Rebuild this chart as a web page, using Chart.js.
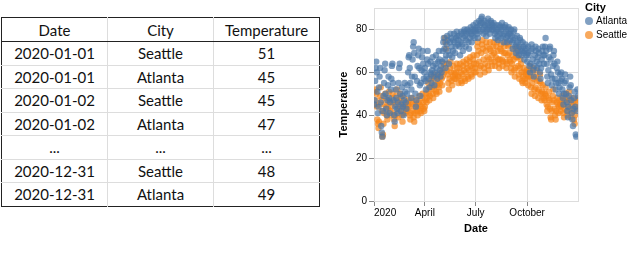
<!DOCTYPE html>
<html>
<head>
<meta charset="utf-8">
<script src="https://cdn.jsdelivr.net/npm/chart.js@4"></script>
<style>
  body { margin: 0; background: #fff; width: 640px; height: 265px; position: relative; overflow: hidden; }
  table { position: absolute; left: 1px; top: 17px; border-collapse: collapse; border: 1px solid #222;
          font-family: Lato, "Open Sans", sans-serif; font-size: 15px; color: #111; }
  td, th { width: 105px; height: 22.5px; padding: 0; text-align: center; font-weight: normal;
           border-left: 1px solid #ddd; border-bottom: 1px solid #ddd; }
  th { height: 23px; border-bottom: 1px solid #222; }
  tr:last-child td { border-bottom: none; }
  td:first-child, th:first-child { border-left: none; }
  #chart { position: absolute; left: 320px; top: 0; }
  #legend { position: absolute; left: 585px; top: 0; font-family: "Liberation Sans", sans-serif; color: #000; }
  #legend .title { font-size: 11px; font-weight: bold; line-height: 14px; }
  #legend .item { position: relative; height: 14px; font-size: 10px; line-height: 14px; padding-left: 11px; }
  #legend .dot { position: absolute; left: 0; top: 3px; width: 8px; height: 8px; border-radius: 50%; }
</style>
</head>
<body>
<table id="tbl"></table>
<canvas id="chart" width="320" height="265"></canvas>
<div id="legend"></div>
<script>
// table shown on the left
const tableHead = ['Date', 'City', 'Temperature'];
const tableRows = [
  ['2020-01-01', 'Seattle', '51'],
  ['2020-01-01', 'Atlanta', '45'],
  ['2020-01-02', 'Seattle', '45'],
  ['2020-01-02', 'Atlanta', '47'],
  ['...', '...', '...'],
  ['2020-12-31', 'Seattle', '48'],
  ['2020-12-31', 'Atlanta', '49']
];

const cities = ['Atlanta', 'Seattle'];
const cityColors = ['rgba(76,120,168,0.7)', 'rgba(245,133,24,0.7)'];

// daily temperatures for 2020 (index = day of year), one row per month
const atlanta = [
  45,47,56,62,65,60,51,41,44,53,58,62,46,35,32,30,42,49,55,61,64,50,43,40,47,54,58,48,41,46,52,
  57,63,64,55,47,40,37,44,52,48,43,41,46,55,62,64,50,42,45,53,49,44,40,47,55,51,46,43,50,
  54,60,67,68,62,55,48,52,58,66,72,74,69,58,50,44,47,56,63,68,71,62,54,49,55,61,67,70,64,57,60,
  62,56,52,58,66,70,64,57,53,60,65,59,55,61,67,63,58,54,60,64,68,62,57,59,65,70,66,61,58,63,
  60,65,70,74,76,71,66,62,68,73,77,75,70,64,68,74,78,76,72,67,70,75,78,74,69,72,76,79,77,73,75,
  77,72,68,74,79,78,73,70,76,79,80,77,72,75,78,80,79,74,71,76,79,81,78,74,77,80,82,79,76,80,
  79,83,81,78,76,80,84,82,79,83,85,86,83,80,78,81,84,82,79,77,80,83,85,82,80,78,81,84,83,80,82,
  80,83,81,78,76,79,82,80,77,75,79,82,81,78,76,80,83,81,77,74,78,81,82,79,76,74,77,80,81,78,75,
  78,80,77,74,71,75,79,80,76,72,69,73,77,74,70,68,72,76,75,71,68,70,74,72,69,66,70,73,71,68,
  65,69,72,68,63,60,64,70,73,71,66,61,58,63,68,72,70,65,62,67,71,69,64,60,57,62,66,70,72,68,64,
  68,72,76,70,64,58,55,61,67,71,72,66,59,54,57,63,68,70,64,57,52,55,62,65,60,55,50,53,59,56,
  60,57,52,48,45,50,55,59,56,50,46,42,39,44,49,53,58,54,47,41,38,35,43,48,51,44,31,30,42,52,49
];
const seattle = [
  51,45,47,52,50,44,38,36,34,37,45,49,53,47,42,30,31,36,41,45,50,48,44,40,38,43,47,51,46,42,40,
  44,48,50,46,41,38,35,40,45,49,52,47,43,39,42,46,50,48,44,40,37,41,45,48,44,41,43,46,42,
  43,45,47,44,40,38,41,46,48,45,42,39,37,41,44,47,45,42,40,43,46,49,45,42,41,44,48,50,46,43,42,
  44,47,50,46,48,52,55,50,47,49,53,56,58,53,50,48,52,57,59,54,51,50,54,58,56,53,51,55,58,60,
  57,54,58,62,64,60,76,74,71,61,64,59,55,52,57,62,65,60,56,54,58,63,60,57,59,57,60,64,62,58,55,
  58,62,64,60,56,55,59,63,65,61,57,56,60,64,66,62,58,57,61,65,67,63,59,58,62,66,68,64,60,62,
  60,64,68,72,74,70,65,62,59,63,69,73,75,71,66,62,60,64,70,74,72,67,63,61,66,71,74,70,65,63,68,
  72,74,69,65,63,67,72,74,70,66,64,62,66,71,73,70,66,63,65,69,72,74,69,65,62,64,68,72,73,69,66,
  65,62,60,64,68,71,66,61,58,62,67,70,72,67,63,59,57,62,66,64,60,56,55,58,62,60,57,55,59,61,
  60,57,54,58,61,63,58,53,50,55,60,62,57,52,49,53,58,61,56,51,48,52,56,59,55,50,47,51,54,50,48,
  47,50,53,49,45,42,44,48,51,47,43,39,38,42,46,49,52,47,43,40,38,42,46,48,45,41,44,47,45,42,
  44,47,49,45,41,39,43,47,50,46,42,40,44,48,51,47,43,39,41,45,48,46,42,38,36,40,44,46,43,47,48
];
// x ticks at day-of-year for Jan 1, Apr 1, Jul 1, Oct 1 (plus the unlabeled year end)
const xTickDays = [0, 91, 182, 274, 365];
const xTickLabels = ['2020', 'April', 'July', 'October', ''];
const yTicks = [0, 20, 40, 60, 80];

// build the table
const tbl = document.getElementById('tbl');
let html = '<tr>' + tableHead.map(h => '<th>' + h + '</th>').join('') + '</tr>';
tableRows.forEach(r => {
  html += '<tr>' + r.map(c => '<td>' + c + '</td>').join('') + '</tr>';
});
tbl.innerHTML = html;

// legend
let lg = '<div class="title">City</div>';
cities.forEach((c, i) => {
  lg += '<div class="item"><span class="dot" style="background:' + cityColors[i] + '"></span>' + c + '</div>';
});
document.getElementById('legend').innerHTML = lg;

const toPoints = arr => arr.map((v, i) => ({ x: i, y: v }));

// light frame around the plot area
const frame = {
  id: 'frame',
  beforeDatasetsDraw(chart) {
    const a = chart.chartArea, ctx = chart.ctx;
    ctx.save();
    ctx.strokeStyle = '#ddd';
    ctx.lineWidth = 1;
    ctx.strokeRect(Math.round(a.left) + 0.5, Math.round(a.top) + 0.5, Math.round(a.right - a.left), Math.round(a.bottom - a.top));
    ctx.restore();
  }
};

const ctx = document.getElementById('chart').getContext('2d');
new Chart(ctx, {
  type: 'scatter',
  data: {
    datasets: [
      {
        label: cities[0],
        data: toPoints(atlanta),
        backgroundColor: cityColors[0],
        borderWidth: 0,
        pointRadius: 3.2,
      },
      {
        label: cities[1],
        data: toPoints(seattle),
        backgroundColor: cityColors[1],
        borderWidth: 0,
        pointRadius: 3.2,
      },
    ],
  },
  plugins: [frame],
  options: {
    responsive: false,
    animation: false,
    devicePixelRatio: 1,
    layout: { padding: { top: 2, bottom: 29, left: 17, right: 62 } },
    scales: {
      x: {
        type: 'linear',
        min: 0,
        max: 365,
        afterBuildTicks: s => { s.ticks = xTickDays.map(v => ({ value: v })); },
        afterFit: s => { s.height = 35; },
        ticks: {
          autoSkip: false,
          maxRotation: 0,
          align: 'inner',
          padding: 1,
          color: '#000',
          font: { family: 'Liberation Sans', size: 10 },
          callback: (v, i) => xTickLabels[i],
        },
        grid: {
          color: '#ddd',
          tickColor: c => (c.tick && c.tick.value === 365 ? 'rgba(0,0,0,0)' : '#888'),
          tickLength: 5,
        },
        border: { color: '#888' },
        title: {
          display: true,
          text: 'Date',
          color: '#000',
          padding: { top: 2, bottom: 0 },
          font: { family: 'Liberation Sans', size: 11, weight: 'bold' },
        },
      },
      y: {
        min: 0,
        max: 90,
        afterBuildTicks: s => { s.ticks = yTicks.map(v => ({ value: v })); },
        afterFit: s => { s.width = 37; },
        ticks: {
          padding: 2,
          color: '#000',
          font: { family: 'Liberation Sans', size: 10 },
        },
        grid: { color: '#ddd', tickColor: '#888', tickLength: 5 },
        border: { color: '#888' },
        title: {
          display: true,
          text: 'Temperature',
          color: '#000',
          padding: { top: 0, bottom: 4 },
          font: { family: 'Liberation Sans', size: 11, weight: 'bold' },
        },
      },
    },
    plugins: {
      legend: { display: false },
      tooltip: { enabled: false },
    },
  },
});
</script>
</body>
</html>
